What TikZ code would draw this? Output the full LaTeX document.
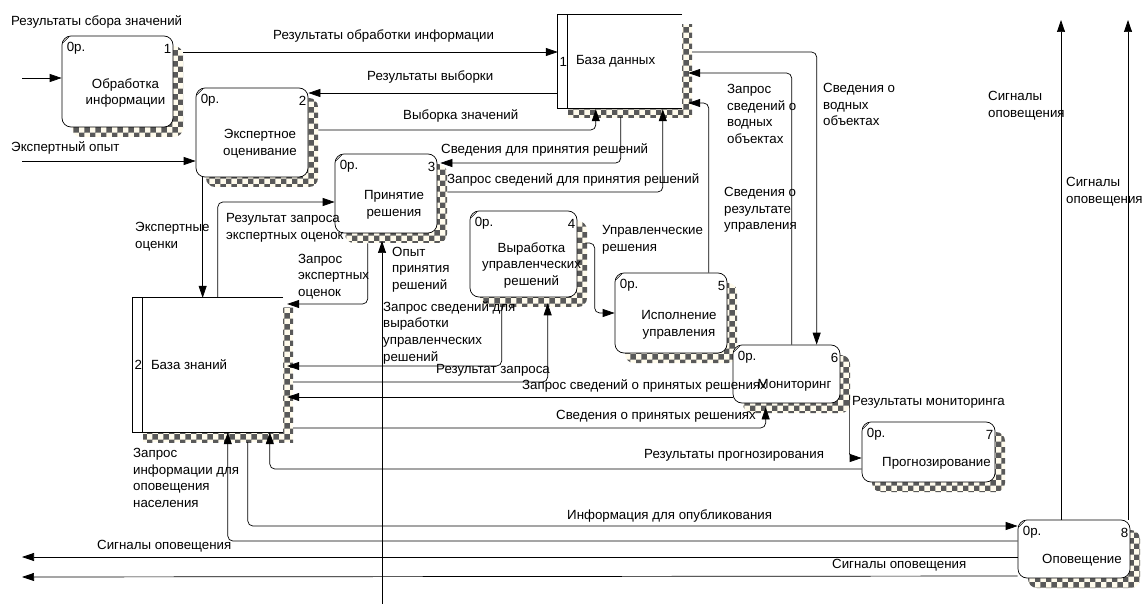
\documentclass[tikz,border=0pt]{standalone}
\usepackage{fontspec}
\setmainfont{Liberation Sans}
\usetikzlibrary{arrows.meta,patterns}

\definecolor{shadowbg}{RGB}{255,251,236}

\tikzset{
  proc/.style={draw, line width=0.7pt, rounded corners=9pt, fill=white, inner sep=0pt,
    preaction={draw=none, fill=shadowbg, transform canvas={shift={(10,10)}}},
    preaction={draw=none, pattern=checkerboard, pattern color=black!65, transform canvas={shift={(10,10)}}}},
  store/.style={fill=white, inner sep=0pt,
    preaction={fill=shadowbg, transform canvas={shift={(10,10)}}},
    preaction={pattern=checkerboard, pattern color=black!65, transform canvas={shift={(10,10)}}}},
  pzero/.style={anchor=west, inner sep=0pt, xshift=5pt, yshift=-13pt},
  pnumr/.style={anchor=east, inner sep=0pt, xshift=-2pt, yshift=-13pt},
  flow/.style={line width=0.7pt, rounded corners=5pt, -{Triangle[length=12pt,width=8pt]}},
  lbl/.style={anchor=west, inner sep=0pt, align=left},
}

\begin{document}
\begin{tikzpicture}[x=1pt, y=-1pt, font=\fontsize{13.3}{16.7}\selectfont]
        \useasboundingbox (0,0) rectangle (1144,604);

        % --- データストア ---
        \node[store, minimum width=124, minimum height=93] (db1) at (620,61.5) {};
        \node[store, minimum width=150, minimum height=134] (db2) at (208,365) {};
        \foreach \d/\k/\txt in {db1/1/База данных, db2/2/База знаний} {
            \draw[line width=0.7pt] (\d.north east) -- (\d.north west) -- (\d.south west) -- (\d.south east);
            \draw[line width=0.7pt] ([xshift=10pt]\d.north west) -- ([xshift=10pt]\d.south west);
            \node[inner sep=0pt] (\d k) at ([xshift=5.5pt]\d.west) {\k};
            \node[lbl] (\d t) at ([xshift=18pt]\d.west) {\txt};
        }

        % --- プロセス ---
        \foreach \n/\cx/\cy/\w/\h/\txt in {
            1/117.5/81.5/111/91/Обработка\\информации,
            2/252/132.5/112/89/Экспертное\\оценивание,
            3/386/193.5/102/79/Принятие\\решения,
            4/523.5/254/107/86/Выработка\\управленческих\\решений,
            5/671/313/112/80/Исполнение\\управления,
            6/786.5/374/107/58/Мониторинг,
            7/928.5/452/133/60/Прогнозирование,
            8/1074/549/112/58/Оповещение} {
            \node[proc, minimum width=\w, minimum height=\h,
                  label={[pzero]north west:0р.}, label={[pnumr]north east:\n}] (p\n) at (\cx,\cy) {};
            \node[align=center, inner sep=0pt] (p\n t) at ([shift={(8,11.5)}]p\n.center) {\txt};
            \draw[line width=0.5pt] ([shift={(1.5,7)}]p\n.north west) -- ([shift={(7,1.5)}]p\n.north west);
        }

        % --- 外部の端点 ---
        \coordinate (in1) at (22,78);
        \coordinate (in2) at (22,161);
        \coordinate (in3) at (382,604);
        \coordinate (out1) at (22,557);
        \coordinate (out2) at (22,577);
        \coordinate (out3) at (1061,20);
        \coordinate (out4) at (1128,20);

        % --- データフロー ---
        \draw[flow] (in1) -- (in1 -| p1.west);
        \draw[flow] (in2) -- (in2 -| p2.west);
        \draw[flow] (in3) -- (in3 |- 0,241);
        \draw[flow] ([xshift=10pt]p1.east |- 0,52) -- (db1.west |- 0,52);
        \draw[flow] (db1.west |- 0,93) -- (p2.east |- 0,93);
        \draw[flow] ([xshift=10pt]p2.east |- 0,130) -| ([shift={(38,1)}]db1.south west);
        \draw[flow] ([shift={(63,9)}]db1.south west) |- ([xshift=3pt]p3.east |- 0,163);
        \draw[flow] ([xshift=10pt]p3.east |- 0,192) -| ([shift={(105,1)}]db1.south west);
        \draw[flow] ([xshift=7pt]p2.south west) -- ([xshift=7pt]p2.south west |- db2.north);
        \draw[flow] ([xshift=85pt]db2.north west) |- (p3.west |- 0,202);
        \draw[flow] ([shift={(33,10)}]p3.south west) |- ([xshift=4pt]db2.east |- 0,304);
        \draw[flow] ([shift={(32,9)}]p4.south west) |- ([xshift=4pt]db2.east |- 0,366);
        \draw[flow] ([xshift=10pt]db2.east |- 0,382) -| ([shift={(78,6)}]p4.south west);
        \draw[flow] (p6.west |- 0,397) -- ([xshift=4pt]db2.east |- 0,397);
        \draw[flow] ([xshift=10pt]db2.east |- 0,428) -| ([shift={(33,4)}]p6.south west);
        \draw[flow] ([shift={(9,-8)}]p6.south east) |- (p7.west |- 0,458);
        \draw[flow] (p7.west |- 0,469) -| ([xshift=137pt]db2.south west);
        \draw[flow] ([shift={(115,10)}]db2.south west) |- (p8.west |- 0,526);
        \draw[flow] (p8.west |- 0,541) -| ([xshift=95pt]db2.south west);
        \draw[flow] (p8.west |- 0,557) -- (out1);
        \draw[flow] (p8.west |- 0,576) -- (out2);
        \draw[flow] (out3 |- p8.north) -- (out3);
        \draw[flow] (out4 |- p8.north) -- (out4);
        \draw[flow] ([xshift=10pt]db1.east |- 0,52) -| ([xshift=84pt]p6.north west);
        \draw[flow] ([xshift=59pt]p6.north west) |- ([xshift=6pt]db1.east |- 0,73);
        \draw[flow] ([xshift=94pt]p5.north west) |- ([xshift=6pt]db1.east |- 0,103);
        \draw[flow] ([xshift=8pt]p4.east |- 0,243) -| ([xshift=-20pt]p5.west |- 0,313) -- (p5.west |- 0,313);

        % --- ラベル ---
        \node[lbl] (l1) at (11,22) {Результаты сбора значений};
        \node[lbl] (l2) at (11,148) {Экспертный опыт};
        \node[lbl] (l3) at (273,36) {Результаты обработки информации};
        \node[lbl] (l4) at (367,77) {Результаты выборки};
        \node[lbl] (l5) at (403,116) {Выборка значений};
        \node[lbl] (l6) at (441,150) {Сведения для принятия решений};
        \node[lbl] (l7) at (447,180) {Запрос сведений для принятия решений};
        \node[lbl] (l8) at (135,236.5) {Экспертные\\оценки};
        \node[lbl] (l9) at (226,228) {Результат запроса\\экспертных оценок};
        \node[lbl] (l10) at (298,276.5) {Запрос\\экспертных\\оценок};
        \node[lbl] (l11) at (392,269.5) {Опыт\\принятия\\решений};
        \node[lbl] (l12) at (383,332.5) {Запрос сведений для\\выработки\\управленческих\\решений};
        \node[lbl] (l13) at (436,370) {Результат запроса};
        \node[lbl] (l14) at (522,386) {Запрос сведений о принятых решениях};
        \node[lbl] (l15) at (556,416) {Сведения о принятых решениях};
        \node[lbl] (l16) at (852,402) {Результаты мониторинга};
        \node[lbl] (l17) at (644,455) {Результаты прогнозирования};
        \node[lbl] (l18) at (567,516) {Информация для опубликования};
        \node[lbl] (l19) at (133,478) {Запрос\\информации для\\оповещения\\населения};
        \node[lbl] (l20) at (97,546) {Сигналы оповещения};
        \node[lbl] (l21) at (832,565) {Сигналы оповещения};
        \node[lbl] (l22) at (988,106) {Сигналы\\оповещения};
        \node[lbl] (l23) at (1066,192) {Сигналы\\оповещения};
        \node[lbl] (l24) at (823,104.5) {Сведения о\\водных\\объектах};
        \node[lbl] (l25) at (727,114) {Запрос\\сведений о\\водных\\объектах};
        \node[lbl] (l26) at (724,210) {Сведения о\\результате\\управления};
        \node[lbl] (l27) at (602,240) {Управленческие\\решения};

    \end{tikzpicture}
\end{document}
